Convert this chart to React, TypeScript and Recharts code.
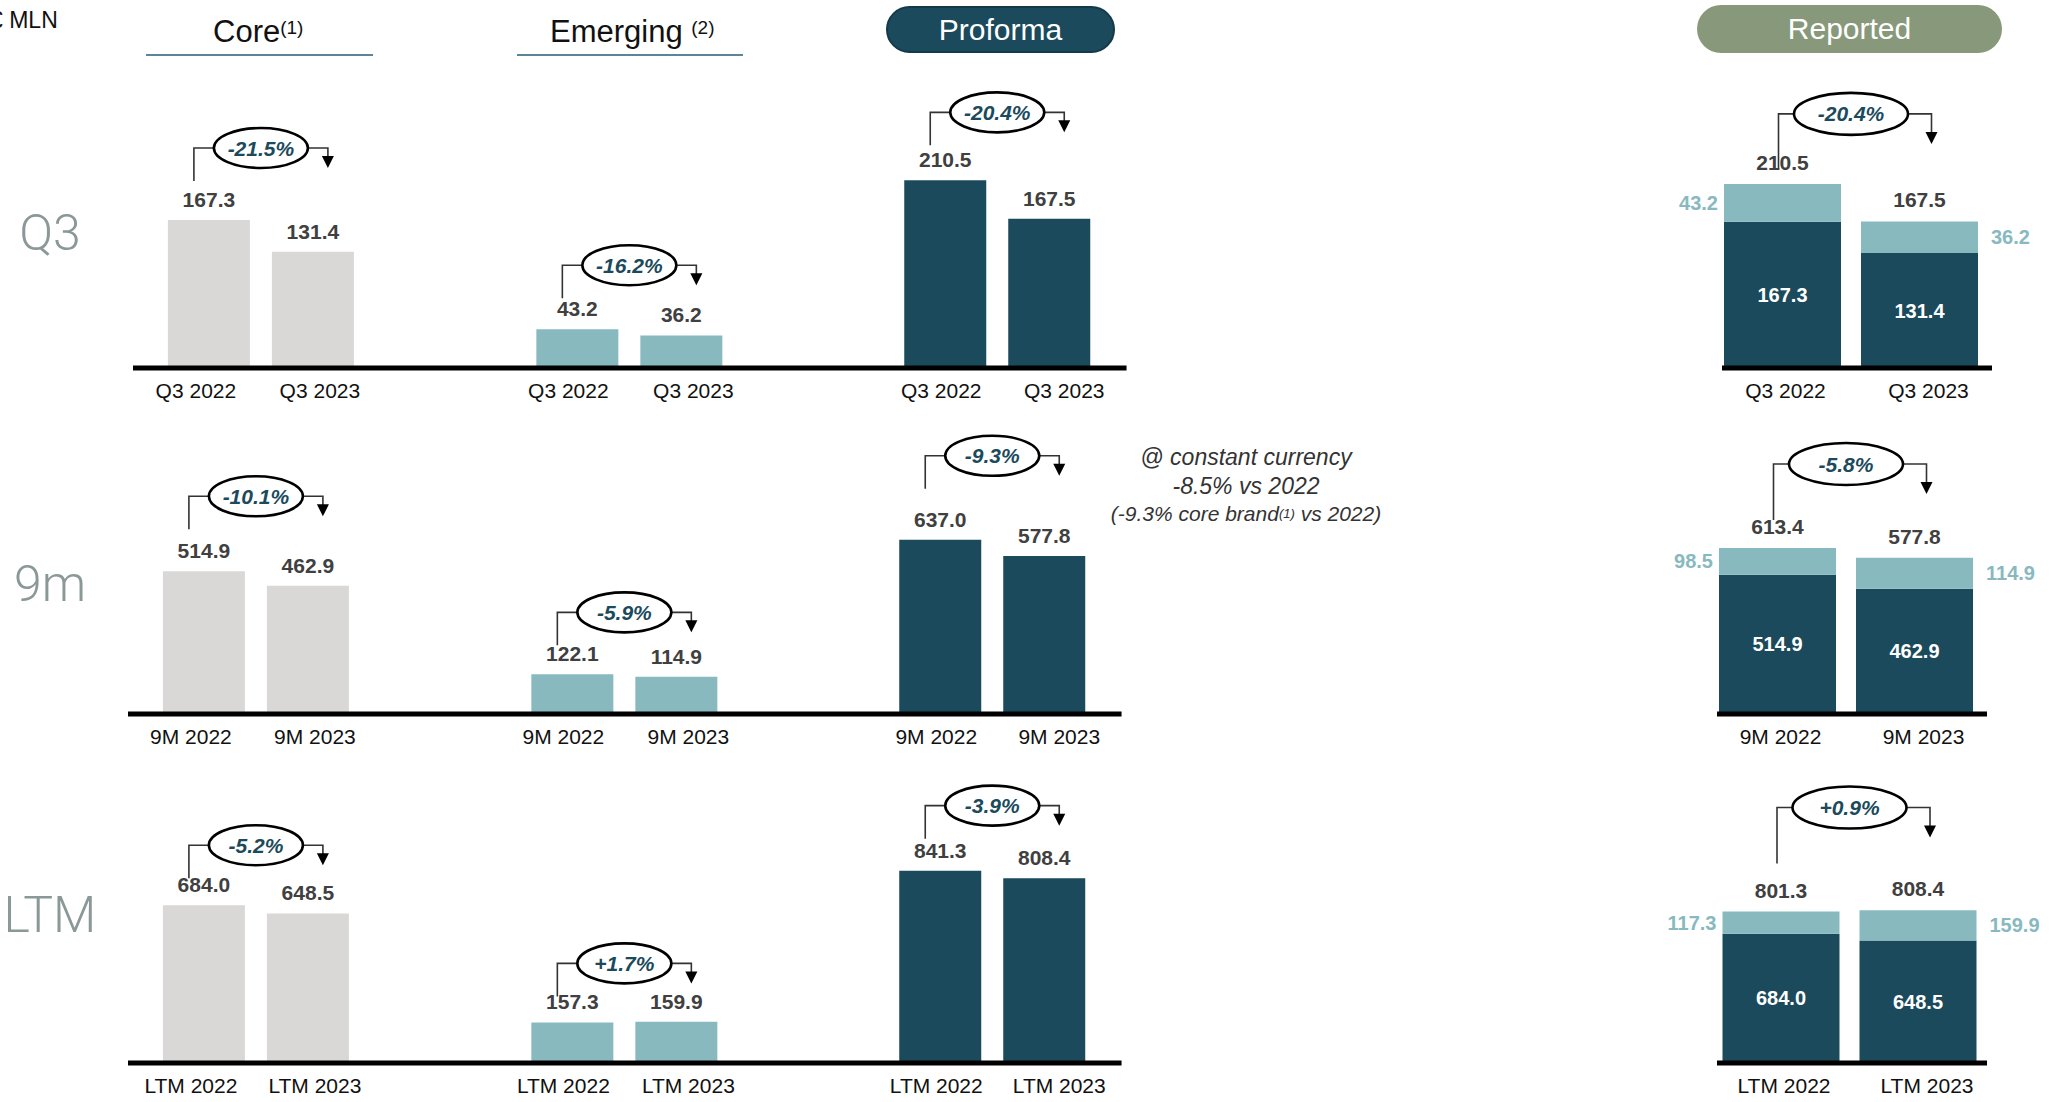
import { BarChart, Bar, XAxis, YAxis, LabelList, ReferenceLine } from 'recharts';

const SANS = "'Liberation Sans', Arial, Helvetica, sans-serif";
const LIGHT_SANS = "Roboto, 'Liberation Sans', sans-serif";

const DARK = '#1b4a5c';
const TEAL = '#87b9bf';
const GREY_BAR = '#d9d8d6';
const VALUE_INK = '#404040';
const SAGE = '#87997a';

// period tick labels
const q3Ticks = ['Q3 2022', 'Q3 2023'];
const nineMonthTicks = ['9M 2022', '9M 2023'];
const ltmTicks = ['LTM 2022', 'LTM 2023'];

// core brands
const coreQ3 = [167.3, 131.4];
const core9m = [514.9, 462.9];
const coreLtm = [684.0, 648.5];

// emerging brands
const emergingQ3 = [43.2, 36.2];
const emerging9m = [122.1, 114.9];
const emergingLtm = [157.3, 159.9];

// proforma totals
const proformaQ3 = [210.5, 167.5];
const proforma9m = [637.0, 577.8];
const proformaLtm = [841.3, 808.4];

// reported: emerging slice and stack totals
const reportedEmergingQ3 = [43.2, 36.2];
const reportedEmerging9m = [98.5, 114.9];
const reportedEmergingLtm = [117.3, 159.9];
const reportedTotalQ3 = [210.5, 167.5];
const reportedTotal9m = [613.4, 577.8];
const reportedTotalLtm = [801.3, 808.4];

// change badges: core, emerging, proforma, reported
const changeQ3 = ['-21.5%', '-16.2%', '-20.4%', '-20.4%'];
const change9m = ['-10.1%', '-5.9%', '-9.3%', '-5.8%'];
const changeLtm = ['-5.2%', '+1.7%', '-3.9%', '+0.9%'];

const rowNames = ['Q3', '9m', 'LTM'];

const ROWS = [
  { ticks: q3Ticks, core: coreQ3, emerging: emergingQ3, proforma: proformaQ3, repEmerging: reportedEmergingQ3, repTotal: reportedTotalQ3, change: changeQ3 },
  { ticks: nineMonthTicks, core: core9m, emerging: emerging9m, proforma: proforma9m, repEmerging: reportedEmerging9m, repTotal: reportedTotal9m, change: change9m },
  { ticks: ltmTicks, core: coreLtm, emerging: emergingLtm, proforma: proformaLtm, repEmerging: reportedEmergingLtm, repTotal: reportedTotalLtm, change: changeLtm },
];

// placement of each row of panels
const ROW_LAYOUT = [
  { baseline: 368, shift: 0, labelY: 233, max: [260, 256, 258, 263], lift: [72, 64, 68, 70], repAxis: [1722, 1992], repCenter: 1851 },
  { baseline: 714, shift: -5, labelY: 584, max: [830, 708, 841, 850], lift: [75, 62, 84, 84], repAxis: [1717, 1987], repCenter: 1846 },
  { baseline: 1063, shift: -5, labelY: 915, max: [997, 891, 1006, 1217], lift: [60, 59, 65, 104], repAxis: [1717, 1987], repCenter: 1849.5 },
];

const PLOT_H = 230;
const TOP_M = 130;
const AXIS_H = 44;
const SIDE_M = 80;
const PAIR_STEP = 104;
const REP_STEP = 137;
const GROUP_CENTERS = [260.5, 629.2, 997.7];
const AXIS_SPAN = [132.6, 1127];
const TICK_DX = [[-13, 7], [-9, 12], [-4, 15], [3, 9]];

const box = (p: any) => {
  const v = p.viewBox || {};
  return {
    x: p.x ?? v.x,
    y: p.y ?? v.y,
    width: p.width ?? v.width,
    height: p.height ?? v.height,
  };
};

const fmt = (v: any) => Number(v).toFixed(1);

function AxisTick(p: any) {
  const { x, y, payload, index, dxs } = p;
  return (
    <text x={x + (dxs[index] ?? 0)} y={y + 30} textAnchor="middle" fontFamily={SANS} fontSize={21} fill="#111">
      {payload.value}
    </text>
  );
}

function ValueLabel(p: any) {
  const b = box(p);
  return (
    <text x={b.x + b.width / 2} y={b.y - 13} textAnchor="middle" fontFamily={SANS} fontWeight="bold" fontSize={21} fill={VALUE_INK}>
      {fmt(p.value)}
    </text>
  );
}

function InnerLabel(p: any) {
  const b = box(p);
  return (
    <text x={b.x + b.width / 2} y={b.y + b.height / 2 + 7} textAnchor="middle" fontFamily={SANS} fontWeight="bold" fontSize={20} fill="#fff">
      {fmt(p.value)}
    </text>
  );
}

function SideLabel(p: any) {
  const b = box(p);
  const left = p.index === 0;
  return (
    <text
      x={left ? b.x - 6 : b.x + b.width + 13}
      y={b.y + b.height / 2 + 7}
      textAnchor={left ? 'end' : 'start'}
      fontFamily={SANS}
      fontWeight="bold"
      fontSize={20}
      fill={TEAL}
    >
      {fmt(p.value)}
    </text>
  );
}

function TotalLabel(p: any) {
  const b = box(p);
  return (
    <text x={b.x + b.width / 2} y={b.y - 14} textAnchor="middle" fontFamily={SANS} fontWeight="bold" fontSize={21} fill={VALUE_INK}>
      {fmt(p.value)}
    </text>
  );
}

// elbow connector with the change badge between the two bars
function Bracket(p: any) {
  const { x1, y1, x2, lift, drop, arrow, rx, ry, text, lineDx, arrowDx } = p;
  if (![x1, y1, x2].every(Number.isFinite)) return <g />;
  const cx = (x1 + x2) / 2;
  const cy = y1 - lift;
  const lx = x1 + lineDx;
  const ax = x2 + arrowDx;
  const tip = cy + arrow;
  return (
    <g>
      <polyline points={`${lx},${cy + drop} ${lx},${cy} ${cx},${cy}`} fill="none" stroke="#333" strokeWidth={1.6} />
      <polyline points={`${cx},${cy} ${ax},${cy} ${ax},${tip - 10}`} fill="none" stroke="#333" strokeWidth={1.6} />
      <polygon points={`${ax - 6},${tip - 12} ${ax + 6},${tip - 12} ${ax},${tip}`} fill="#000" />
      <ellipse cx={cx} cy={cy} rx={rx} ry={ry} fill="#fff" stroke="#000" strokeWidth={2.6} />
      <text x={cx} y={cy + 7.5} textAnchor="middle" fontFamily={SANS} fontSize={21} fontWeight="bold" fontStyle="italic" fill={DARK}>
        {text}
      </text>
    </g>
  );
}

function PairChart(props: any) {
  const { ticks, values, fill, left, right, center, baseline, max, lift, change, dxs } = props;
  const width = right - left;
  const height = TOP_M + PLOT_H + AXIS_H;
  const data = ticks.map((label: string, i: number) => ({ label, value: values[i] }));
  return (
    <div style={{ position: 'absolute', left, top: baseline - PLOT_H - TOP_M, width, height }}>
      <BarChart width={width} height={height} data={data} margin={{ top: TOP_M, right: 0, bottom: 0, left: 0 }}>
        <XAxis
          dataKey="label"
          height={AXIS_H}
          padding={{ left: center - PAIR_STEP - left, right: right - center - PAIR_STEP }}
          axisLine={{ stroke: '#000', strokeWidth: 5 }}
          tickLine={false}
          tickSize={0}
          tickMargin={0}
          interval={0}
          tick={(t: any) => <AxisTick {...t} dxs={dxs} />}
        />
        <YAxis hide domain={[0, max]} />
        <Bar dataKey="value" fill={fill} barSize={82} isAnimationActive={false}>
          <LabelList dataKey="value" content={ValueLabel} />
        </Bar>
        <ReferenceLine
          ifOverflow="visible"
          segment={[{ x: ticks[0], y: values[0] }, { x: ticks[1], y: values[1] }]}
          shape={(s: any) => (
            <Bracket {...s} lift={lift} drop={33} arrow={20} rx={47} ry={20} text={change} lineDx={-15} arrowDx={15} />
          )}
        />
      </BarChart>
    </div>
  );
}

function ReportedChart(props: any) {
  const { ticks, core, emerging, totals, axis, center, baseline, max, lift, change, dxs } = props;
  const [axisStart, axisEnd] = axis;
  const width = axisEnd - axisStart + SIDE_M * 2;
  const height = TOP_M + PLOT_H + AXIS_H;
  const data = ticks.map((label: string, i: number) => ({ label, core: core[i], emerging: emerging[i], total: totals[i] }));
  return (
    <div style={{ position: 'absolute', left: axisStart - SIDE_M, top: baseline - PLOT_H - TOP_M, width, height }}>
      <BarChart width={width} height={height} data={data} margin={{ top: TOP_M, right: SIDE_M, bottom: 0, left: SIDE_M }}>
        <XAxis
          dataKey="label"
          height={AXIS_H}
          padding={{ left: center - REP_STEP - axisStart, right: axisEnd - center - REP_STEP }}
          axisLine={{ stroke: '#000', strokeWidth: 5 }}
          tickLine={false}
          tickSize={0}
          tickMargin={0}
          interval={0}
          tick={(t: any) => <AxisTick {...t} dxs={dxs} />}
        />
        <YAxis hide domain={[0, max]} />
        <Bar dataKey="core" stackId="rep" fill={DARK} barSize={117} isAnimationActive={false}>
          <LabelList dataKey="core" content={InnerLabel} />
        </Bar>
        <Bar dataKey="emerging" stackId="rep" fill={TEAL} barSize={117} isAnimationActive={false}>
          <LabelList dataKey="emerging" content={SideLabel} />
          <LabelList dataKey="total" content={TotalLabel} />
        </Bar>
        <ReferenceLine
          ifOverflow="visible"
          segment={[{ x: ticks[0], y: totals[0] }, { x: ticks[1], y: totals[1] }]}
          shape={(s: any) => (
            <Bracket {...s} lift={lift} drop={56} arrow={30} rx={57} ry={21} text={change} lineDx={-4} arrowDx={12} />
          )}
        />
      </BarChart>
    </div>
  );
}

function PeriodRow({ row, layout, name }: any) {
  const centers = GROUP_CENTERS.map((c) => c + layout.shift);
  const start = AXIS_SPAN[0] + layout.shift;
  const end = AXIS_SPAN[1] + layout.shift;
  const bounds = [start, (centers[0] + centers[1]) / 2, (centers[1] + centers[2]) / 2, end];
  const series = [row.core, row.emerging, row.proforma];
  const fills = [GREY_BAR, TEAL, DARK];
  return (
    <>
      <div
        style={{
          position: 'absolute',
          left: 0,
          width: 100,
          top: layout.labelY - 30,
          textAlign: 'center',
          fontFamily: LIGHT_SANS,
          fontWeight: 300,
          fontSize: 50,
          lineHeight: '60px',
          color: '#8b9898',
        }}
      >
        {name}
      </div>
      {series.map((values, g) => (
        <PairChart
          key={g}
          ticks={row.ticks}
          values={values}
          fill={fills[g]}
          left={bounds[g]}
          right={bounds[g + 1]}
          center={centers[g]}
          baseline={layout.baseline}
          max={layout.max[g]}
          lift={layout.lift[g]}
          change={row.change[g]}
          dxs={TICK_DX[g]}
        />
      ))}
      <ReportedChart
        ticks={row.ticks}
        core={row.core}
        emerging={row.repEmerging}
        totals={row.repTotal}
        axis={layout.repAxis}
        center={layout.repCenter}
        baseline={layout.baseline}
        max={layout.max[3]}
        lift={layout.lift[3]}
        change={row.change[3]}
        dxs={TICK_DX[3]}
      />
    </>
  );
}

const headerText = { position: 'absolute' as const, fontFamily: SANS, fontSize: 31, color: '#111', whiteSpace: 'nowrap' as const };
const sup = { fontSize: 19, verticalAlign: 'top', position: 'relative' as const, top: -4 };

export default function App() {
  return (
    <div style={{ position: 'absolute', left: 0, top: 0, width: 2050, height: 1102, overflow: 'hidden', background: '#fff' }}>
      <div style={{ position: 'absolute', left: -10, top: 7, fontFamily: SANS, fontSize: 23, color: '#111', whiteSpace: 'nowrap' }}>€ MLN</div>

      <div style={{ ...headerText, left: 213, top: 14, lineHeight: '36px' }}>
        Core<span style={sup}>(1)</span>
      </div>
      <div style={{ position: 'absolute', left: 146, top: 54, width: 227, height: 2, background: '#5a869a' }} />

      <div style={{ ...headerText, left: 550, top: 14, lineHeight: '36px' }}>
        Emerging <span style={sup}>(2)</span>
      </div>
      <div style={{ position: 'absolute', left: 517, top: 54, width: 226, height: 2, background: '#5a869a' }} />

      <div
        style={{
          position: 'absolute', left: 886, top: 6, width: 229, height: 47, boxSizing: 'border-box',
          borderRadius: 24, background: DARK, border: '2px solid #143a49', color: '#fff',
          fontFamily: SANS, fontSize: 30, lineHeight: '43px', textAlign: 'center',
        }}
      >
        Proforma
      </div>
      <div
        style={{
          position: 'absolute', left: 1697, top: 5, width: 305, height: 48, borderRadius: 24,
          background: SAGE, color: '#fff', fontFamily: SANS, fontSize: 30, lineHeight: '48px', textAlign: 'center',
        }}
      >
        Reported
      </div>

      {ROWS.map((row, i) => (
        <PeriodRow key={rowNames[i]} row={row} layout={ROW_LAYOUT[i]} name={rowNames[i]} />
      ))}

      <div
        style={{
          position: 'absolute', left: 1046, top: 443, width: 400, textAlign: 'center',
          fontFamily: SANS, fontStyle: 'italic', color: '#333', fontSize: 23, lineHeight: '29px',
        }}
      >
        <div>@ constant currency</div>
        <div>-8.5% vs 2022</div>
        <div style={{ fontSize: 21, lineHeight: '26px' }}>
          (-9.3% core brand<span style={{ fontSize: 13, verticalAlign: 'top' }}>(1)</span> vs 2022)
        </div>
      </div>
    </div>
  );
}
